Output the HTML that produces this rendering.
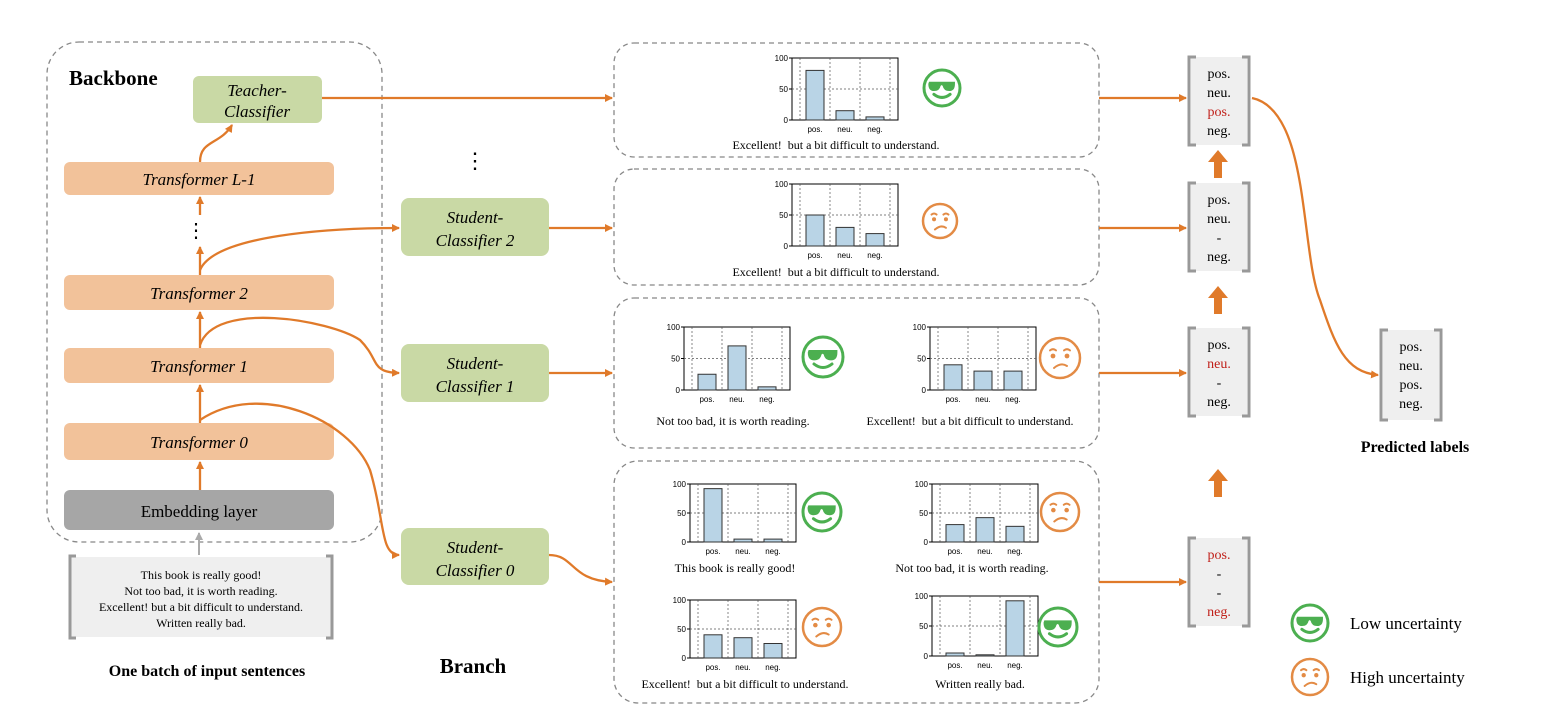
<!DOCTYPE html>
<html><head><meta charset="utf-8"><style>
body{margin:0;background:#fff}
svg{display:block;font-family:"Liberation Serif",serif}
</style></head><body>
<svg id="s" width="1546" height="728" viewBox="0 0 1546 728" xmlns="http://www.w3.org/2000/svg">
<defs>
<marker id="ah" markerWidth="8" markerHeight="8" refX="7" refY="4" orient="auto" markerUnits="userSpaceOnUse"><path d="M0,0 L8,4 L0,8 Z" fill="#e07a2a"/></marker>
<marker id="ag" markerWidth="8" markerHeight="8" refX="7" refY="4" orient="auto" markerUnits="userSpaceOnUse"><path d="M0,0 L8,4 L0,8 Z" fill="#aaa"/></marker>
</defs>
<!-- dashed containers -->
<g fill="none" stroke="#888" stroke-width="1.3" stroke-dasharray="5,4">
<rect x="47" y="42" width="335" height="500" rx="32"/>
<rect x="614" y="43" width="485" height="114" rx="20"/>
<rect x="614" y="169" width="485" height="116" rx="20"/>
<rect x="614" y="298" width="485" height="150" rx="20"/>
<rect x="614" y="461" width="485" height="242" rx="24"/>
</g>
<text x="69" y="85" font-size="21" font-weight="bold">Backbone</text>
<!-- blocks -->
<g font-size="17" font-style="italic" text-anchor="middle">
<rect x="193" y="76" width="129" height="47" rx="6" fill="#c9d9a5"/>
<text x="257" y="96">Teacher-</text><text x="257" y="117">Classifier</text>
<rect x="64" y="162" width="270" height="33" rx="6" fill="#f2c29a"/><text x="199" y="185">Transformer L-1</text>
<rect x="64" y="275" width="270" height="35" rx="6" fill="#f2c29a"/><text x="199" y="299">Transformer 2</text>
<rect x="64" y="348" width="270" height="35" rx="6" fill="#f2c29a"/><text x="199" y="372">Transformer 1</text>
<rect x="64" y="423" width="270" height="37" rx="6" fill="#f2c29a"/><text x="199" y="448">Transformer 0</text>
<rect x="64" y="490" width="270" height="40" rx="6" fill="#a6a6a6"/><text x="199" y="517" font-style="normal">Embedding layer</text>
<rect x="401" y="198" width="148" height="58" rx="8" fill="#c9d9a5"/><text x="475" y="223">Student-</text><text x="475" y="246">Classifier 2</text>
<rect x="401" y="344" width="148" height="58" rx="8" fill="#c9d9a5"/><text x="475" y="369">Student-</text><text x="475" y="392">Classifier 1</text>
<rect x="401" y="528" width="148" height="57" rx="8" fill="#c9d9a5"/><text x="475" y="553">Student-</text><text x="475" y="576">Classifier 0</text>
</g>
<!-- input -->
<rect x="70" y="557" width="262" height="80" fill="#efefef"/>
<g fill="none" stroke="#999" stroke-width="3"><path d="M76,556 h-6 v82 h6"/><path d="M326,556 h6 v82 h-6"/></g>
<g font-size="12" text-anchor="middle"><text x="201" y="579">This book is really good!</text><text x="201" y="595">Not too bad, it is worth reading.</text><text x="201" y="611">Excellent!  but a bit difficult to understand.</text><text x="201" y="627">Written really bad.</text></g>
<text x="207" y="676" font-size="16" font-weight="bold" text-anchor="middle">One batch of input sentences</text>
<text x="473" y="673" font-size="21" font-weight="bold" text-anchor="middle">Branch</text>
<text x="1415" y="452" font-size="16" font-weight="bold" text-anchor="middle">Predicted labels</text>
<line x1="199" y1="555" x2="199" y2="533" stroke="#aaa" stroke-width="2" marker-end="url(#ag)"/>
<!-- orange connectors -->
<g fill="none" stroke="#e07a2a" stroke-width="2.3" marker-end="url(#ah)">
<line x1="200" y1="490" x2="200" y2="462"/>
<line x1="200" y1="423" x2="200" y2="385"/>
<line x1="200" y1="348" x2="200" y2="312"/>
<line x1="200" y1="275" x2="200" y2="247"/>
<line x1="200" y1="215" x2="200" y2="197"/>
<path d="M200,162 C200,140 220,145 232,125"/>
<path d="M200,270 C215,235 330,228 399,228"/>
<path d="M200,345 C215,300 330,320 360,340 C380,360 370,372 399,373"/>
<path d="M200,420 C260,380 350,420 370,470 C385,520 380,555 399,555"/>
<line x1="322" y1="98" x2="612" y2="98"/>
<line x1="549" y1="228" x2="612" y2="228"/>
<line x1="549" y1="373" x2="612" y2="373"/>
<path d="M549,555 C575,555 570,580 612,582"/>
<line x1="1099" y1="98" x2="1186" y2="98"/>
<line x1="1099" y1="228" x2="1186" y2="228"/>
<line x1="1099" y1="373" x2="1186" y2="373"/>
<line x1="1099" y1="582" x2="1186" y2="582"/>
<path d="M1252,98 C1310,110 1300,250 1320,300 C1335,345 1345,372 1378,375"/>
</g>
<text x="196" y="237" font-size="20" text-anchor="middle">⋮</text>
<text x="475" y="168" font-size="22" text-anchor="middle">⋮</text>
<!-- thick up arrows -->
<g fill="#e07a2a">
<path d="M1214,178 v-16 h-6 l10,-12 l10,12 h-6 v16z"/>
<path d="M1214,314 v-16 h-6 l10,-12 l10,12 h-6 v16z"/>
<path d="M1214,497 v-16 h-6 l10,-12 l10,12 h-6 v16z"/>
</g>
<g id="labels" font-size="14" text-anchor="middle"></g>
<g id="charts" font-family="Liberation Sans,sans-serif"></g>
<text x="1350" y="629" font-size="17">Low uncertainty</text>
<text x="1350" y="683" font-size="17">High uncertainty</text>
</svg>
<script>
var NS="http://www.w3.org/2000/svg";
function add(p,html){p.insertAdjacentHTML('beforeend',html);}
var L=document.getElementById('labels');
function lbox(x,y,w,h,items){
 var s='<rect x="'+(x+3)+'" y="'+y+'" width="'+(w-6)+'" height="'+h+'" fill="#efefef"/>'+
 '<path d="M'+(x+8)+','+y+' h-7 v'+h+' h7" fill="none" stroke="#999" stroke-width="3"/>'+
 '<path d="M'+(x+w-8)+','+y+' h7 v'+h+' h-7" fill="none" stroke="#999" stroke-width="3"/>';
 for(var i=0;i<4;i++){var t=items[i];var red=t[0]=='*';if(red)t=t.slice(1);
 s+='<text x="'+(x+w/2)+'" y="'+(y+21+i*19)+'" fill="'+(red?'#c0201a':'#000')+'">'+t+'</text>';}
 add(L,s);
}
lbox(1188,57,62,88,['pos.','neu.','*pos.','neg.']);
lbox(1188,183,62,88,['pos.','neu.','-','neg.']);
lbox(1188,328,62,88,['pos.','*neu.','-','neg.']);
lbox(1188,538,62,88,['*pos.','-','-','*neg.']);
lbox(1380,330,62,90,['pos.','neu.','pos.','neg.']);
var C=document.getElementById('charts');
function chart(x,y,h,v){
 var w=106,s='';
 s+='<rect x="'+x+'" y="'+y+'" width="'+w+'" height="'+h+'" fill="none" stroke="#000" stroke-width="1"/>';
 [8,38,68,98].forEach(function(o){s+='<line x1="'+(x+o)+'" y1="'+y+'" x2="'+(x+o)+'" y2="'+(y+h)+'" stroke="#555" stroke-width="0.7" stroke-dasharray="2,2"/>';});
 s+='<line x1="'+x+'" y1="'+(y+h/2)+'" x2="'+(x+w)+'" y2="'+(y+h/2)+'" stroke="#555" stroke-width="0.7" stroke-dasharray="2,2"/>';
 var n=['pos.','neu.','neg.'];
 [23,53,83].forEach(function(o,i){var bh=h*v[i]/100;
  s+='<rect x="'+(x+o-9)+'" y="'+(y+h-bh)+'" width="18" height="'+bh+'" fill="#b9d4e6" stroke="#333" stroke-width="1"/>';
  s+='<text x="'+(x+o)+'" y="'+(y+h+12)+'" font-size="8" text-anchor="middle">'+n[i]+'</text>';});
 [[100,0],[50,h/2],[0,h]].forEach(function(a){s+='<text x="'+(x-4)+'" y="'+(y+a[1]+3)+'" font-size="8" text-anchor="end">'+a[0]+'</text><line x1="'+(x-3)+'" y1="'+(y+a[1])+'" x2="'+x+'" y2="'+(y+a[1])+'" stroke="#000"/>';});
 add(C,s);
}
function txt(x,y,t){add(C,'<text x="'+x+'" y="'+y+'" font-size="12" text-anchor="middle" font-family="Liberation Serif,serif">'+t+'</text>');}
function good(cx,cy,r){var c='#4caf50';
 add(C,'<circle cx="'+cx+'" cy="'+cy+'" r="'+r+'" fill="none" stroke="'+c+'" stroke-width="3"/>'+
 '<path d="M'+(cx-r*0.72)+','+(cy-r*0.35)+' h'+(r*1.44)+' v'+(r*0.12)+' q0,'+(r*0.4)+' -'+(r*0.32)+','+(r*0.4)+' q-'+(r*0.3)+',0 -'+(r*0.36)+',-'+(r*0.28)+' q-'+(r*0.06)+',-'+(r*0.1)+' -'+(r*0.12)+',0 q-'+(r*0.06)+','+(r*0.28)+' -'+(r*0.36)+','+(r*0.28)+' q-'+(r*0.32)+',0 -'+(r*0.32)+',-'+(r*0.4)+'z" fill="'+c+'"/>'+
 '<path d="M'+(cx-r*0.45)+','+(cy+r*0.35)+' q'+(r*0.45)+','+(r*0.35)+' '+(r*0.9)+',0" fill="none" stroke="'+c+'" stroke-width="3" stroke-linecap="round"/>');}
function bad(cx,cy,r){var c='#e38b45';
 add(C,'<circle cx="'+cx+'" cy="'+cy+'" r="'+r+'" fill="none" stroke="'+c+'" stroke-width="2.5"/>'+
 '<circle cx="'+(cx-r*0.35)+'" cy="'+(cy-r*0.1)+'" r="'+(r*0.12)+'" fill="'+c+'"/><circle cx="'+(cx+r*0.35)+'" cy="'+(cy-r*0.1)+'" r="'+(r*0.12)+'" fill="'+c+'"/>'+
 '<path d="M'+(cx-r*0.5)+','+(cy-r*0.38)+' q'+(r*0.15)+',-'+(r*0.12)+' '+(r*0.3)+',0 M'+(cx+r*0.2)+','+(cy-r*0.38)+' q'+(r*0.15)+',-'+(r*0.12)+' '+(r*0.3)+',0 M'+(cx-r*0.3)+','+(cy+r*0.5)+' q'+(r*0.35)+',-'+(r*0.3)+' '+(r*0.65)+',-'+(r*0.1)+'" fill="none" stroke="'+c+'" stroke-width="2" stroke-linecap="round"/>');}
var E='Excellent!&#160; but a bit difficult to understand.';
chart(792,58,62,[80,15,5]);good(942,88,18);txt(836,149,E);
chart(792,184,62,[50,30,20]);bad(940,221,17);txt(836,276,E);
chart(684,327,63,[25,70,5]);good(823,357,20);txt(733,425,'Not too bad, it is worth reading.');
chart(930,327,63,[40,30,30]);bad(1060,358,20);txt(970,425,E);
chart(690,484,58,[92,5,5]);good(822,512,19);txt(735,572,'This book is really good!');
chart(932,484,58,[30,42,27]);bad(1060,512,19);txt(972,572,'Not too bad, it is worth reading.');
chart(690,600,58,[40,35,25]);bad(822,627,19);txt(745,688,E);
chart(932,596,60,[5,2,92]);good(1058,627,19);txt(980,688,'Written really bad.');
good(1310,623,18);bad(1310,677,18);
</script>
</body></html>
